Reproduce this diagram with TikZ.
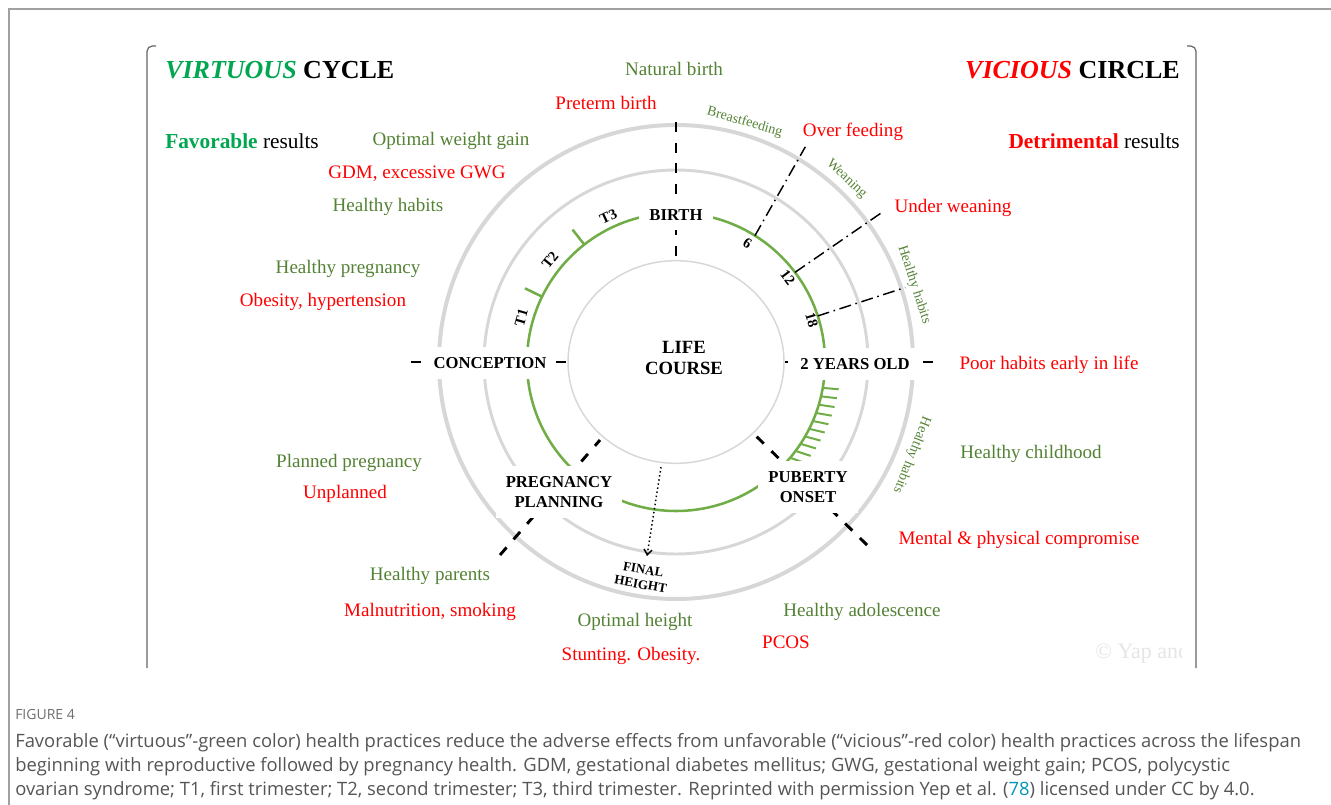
\documentclass[tikz,border=0pt]{standalone}
\usepackage{fontspec}
\setmainfont{Liberation Serif}
\newfontfamily\capfont{Open Sans}
\usetikzlibrary{calc,arrows.meta}
\definecolor{tgreen}{RGB}{84,130,53}
\definecolor{vgreen}{RGB}{0,166,80}
\definecolor{ringgrey}{RGB}{215,215,215}
\definecolor{ringgreen}{RGB}{112,173,71}
\definecolor{tred}{RGB}{255,0,0}
\definecolor{capgrey}{RGB}{85,85,85}
\definecolor{figgrey}{RGB}{110,110,110}
\definecolor{linkteal}{RGB}{0,150,180}
\definecolor{framegrey}{RGB}{100,100,100}
\definecolor{outergrey}{RGB}{160,160,160}
\begin{document}
\begin{tikzpicture}[x=0.75pt,y=0.75pt,
 gtxt/.style={text=tgreen,font=\fontsize{14.3}{17}\selectfont,inner sep=0pt,text height=9.5pt,text depth=0pt},
 rtxt/.style={text=tred,font=\fontsize{14.3}{17}\selectfont,inner sep=0pt,text height=9.5pt,text depth=0pt},
 stage/.style={fill=white,font=\bfseries\fontsize{12.5}{15}\selectfont,align=center,inner xsep=7.5pt,inner ysep=7.5pt},
 spoke/.style={draw=black,line width=2.2pt,dash pattern=on 7.5pt off 8pt},
 month/.style={draw=black,line width=1.1pt,dash pattern=on 9pt off 3.5pt on 1.2pt off 3.5pt},
 ring/.style={draw=ringgrey},
 gring/.style={draw=ringgreen,line width=1.9pt},
 numlab/.style={font=\bfseries\fontsize{11}{13}\selectfont,inner sep=0pt},
 ringlab/.style={text=tgreen,font=\fontsize{10.5}{12}\selectfont,inner sep=0pt,anchor=base},
 title/.style={font=\bfseries\fontsize{19.5}{24}\selectfont,inner sep=0pt,text height=13pt,text depth=0pt},
 result/.style={font=\fontsize{16}{19}\selectfont,inner sep=0pt,text height=10.6pt,text depth=0pt},
 capline/.style={anchor=west,inner sep=0pt,text=capgrey,font=\capfont\fontsize{13.8}{16}\selectfont,text height=9.8pt,text depth=0pt},
]
\useasboundingbox (0,0) rectangle (1331,-805);
% frames
\draw[outergrey,line width=1.1pt] (9,-805) -- (9,-9) -- (1331,-9);
\draw[framegrey,line width=0.9pt,rounded corners=4pt] (156,-46) -- (147,-46) -- (147,-668);
\draw[framegrey,line width=0.9pt,rounded corners=4pt] (1187,-46) -- (1196,-46) -- (1196,-668);

\coordinate (c) at (676,-362);
% rings
\draw[ring,line width=3pt] (c) circle[radius=177.75pt];
\draw[ring,line width=2.2pt] (c) circle[radius=144pt];
\draw[draw=ringgrey,line width=1.1pt] (c) ellipse[x radius=81pt,y radius=76pt];
\draw[gring] (c) circle[radius=111.75pt];
% trimester ticks
\draw[gring] ($(c)+(154:149)$) -- ($(c)+(154:168)$);
\draw[gring] ($(c)+(128:149)$) -- ($(c)+(128:168)$);
% hatch ticks
\foreach \i in {0,...,9}{
  \pgfmathsetmacro\ang{-10-3.33*\i}
  \draw[gring,line width=1.5pt] ($(c)+(\ang:149)$) -- ++({\ang/2}:16);
}
% spoke coordinates
\coordinate (sb1) at (676,-122); \coordinate (sb2) at (676,-262);
\coordinate (sc1) at (411,-362); \coordinate (sc2) at (568,-362);
\coordinate (sy1) at (933,-362); \coordinate (sy2) at (785,-362);
\coordinate (sp1) at (500,-555); \coordinate (sp2) at (600,-440);
\coordinate (so1) at (867,-545); \coordinate (so2) at (755,-435);
\draw[spoke] (sb1) -- (sb2);
\draw[spoke] (sc1) -- (sc2);
\draw[spoke] (sy1) -- (sy2);
\draw[spoke] (sp1) -- (sp2);
\draw[spoke] (so1) -- (so2);
% month lines
\coordinate (m6a) at ($(c)+(58:149)$); \coordinate (m6b) at ($(c)+(59:251)$);
\coordinate (m12a) at ($(c)+(37:149)$); \coordinate (m12b) at ($(c)+(36:253)$);
\coordinate (m18a) at ($(c)+(18:149)$); \coordinate (m18b) at ($(c)+(18:241)$);
\draw[month] (m6a) -- (m6b);
\draw[month] (m12a) -- (m12b);
\draw[month] (m18a) -- (m18b);
% final height arrow
\coordinate (fhs) at (661,-467); \coordinate (fhe) at (647,-556);
\draw[dotted,line width=1.1pt,-{Straight Barb[length=4pt,width=6pt]}] (fhs) -- (fhe);

% stage labels
\node[stage] (birth) at (676,-215) {BIRTH};
\node[stage] (conc) at (490,-363) {CONCEPTION};
\node[stage] (two) at (855,-364) {2 YEARS OLD};
\node[stage] (preg) at (559,-492) {PREGNANCY\\PLANNING};
\node[stage] (pub) at (808,-487) {PUBERTY\\ONSET};
\node[font=\bfseries\fontsize{14}{15.75}\selectfont,align=center,inner sep=0pt] (life) at (684,-358) {LIFE\\COURSE};
\node[font=\bfseries\fontsize{9.8}{11.25}\selectfont,align=center,rotate=-10,inner sep=0pt] (fh) at (642,-577) {FINAL\\HEIGHT};

% small rotated labels
\node[numlab,rotate=74] (t1) at ($(c)+(164:161)$) {T1};
\node[numlab,rotate=51] (t2) at ($(c)+(141:162)$) {T2};
\node[numlab,rotate=25] (t3) at ($(c)+(115:160)$) {T3};
\node[numlab,rotate=-31] (n6) at ($(c)+(59:139)$) {6};
\node[numlab,rotate=-53] (n12) at ($(c)+(37:140)$) {12};
\node[numlab,rotate=-73] (n18) at ($(c)+(17:142)$) {18};

% ring labels (tangent to the outer ring)
\node[ringlab,rotate=-16] (bf) at ($(c)+(74:246)$) {Breastfeeding};
\node[ringlab,rotate=-43] (wn) at ($(c)+(47:247)$) {Weaning};
\node[ringlab,rotate=-72] (hh1) at ($(c)+(18:247)$) {Healthy habits};
\node[ringlab,rotate=-111.5] (hh2) at ($(c)+(-21.5:250)$) {Healthy habits};

% titles
\node[title,anchor=west] (vt) at (165,-70) {\textcolor{vgreen}{\itshape VIRTUOUS} CYCLE};
\node[title,anchor=east] (vc) at (1180,-70) {\textcolor{tred}{\itshape VICIOUS} CIRCLE};
\node[result,anchor=west] (fav) at (165,-141) {\textcolor{vgreen}{\bfseries Favorable} results};
\node[result,anchor=east] (det) at (1180,-141) {\textcolor{tred}{\bfseries Detrimental} results};

% outcome texts
\node[gtxt] (nb) at (674,-69) {Natural birth};
\node[rtxt] (pb) at (606,-103) {Preterm birth};
\node[gtxt] (owg) at (451,-139) {Optimal weight gain};
\node[rtxt] (of) at (853,-130) {Over feeding};
\node[rtxt] (gdm) at (417,-172) {GDM, excessive GWG};
\node[gtxt] (hh) at (388,-205) {Healthy habits};
\node[rtxt] (uw) at (953,-206) {Under weaning};
\node[gtxt] (hp) at (348,-267) {Healthy pregnancy};
\node[rtxt] (oh) at (323,-300) {Obesity, hypertension};
\node[rtxt] (ph) at (1049,-363) {Poor habits early in life};
\node[gtxt] (hc) at (1031,-452) {Healthy childhood};
\node[gtxt] (pp) at (349,-461) {Planned pregnancy};
\node[rtxt] (up) at (345,-492) {Unplanned};
\node[rtxt] (mp) at (1019,-538) {Mental \& physical compromise};
\node[gtxt] (hpa) at (430,-574) {Healthy parents};
\node[rtxt] (ms) at (430,-610) {Malnutrition, smoking};
\node[gtxt] (oht) at (635,-620) {Optimal height};
\node[rtxt] (so) at (631,-654) {Stunting. Obesity.};
\node[gtxt] (ha) at (862,-610) {Healthy adolescence};
\node[rtxt] (pcos) at (786,-642) {PCOS};

% watermark
\begin{scope}
\clip (1000,-630) rectangle (1181,-680);
\node[text=black!10,font=\fontsize{16.5}{19}\selectfont,anchor=west,inner sep=0pt] (wm) at (1095,-653) {© Yap and};
\end{scope}

% caption
\node[anchor=west,inner sep=0pt,text=figgrey,font=\capfont\fontsize{10.5}{12}\selectfont] (figno) at (15,-714) {FIGURE 4};
\node[capline] (cap1) at (15,-741) {Favorable (“virtuous”-green color) health practices reduce the adverse effects from unfavorable (“vicious”-red color) health practices across the lifespan};
\node[capline] (cap2) at (15,-765) {beginning with reproductive followed by pregnancy health. GDM, gestational diabetes mellitus; GWG, gestational weight gain; PCOS, polycystic};
\node[capline] (cap3) at (15,-789) {ovarian syndrome; T1, first trimester; T2, second trimester; T3, third trimester. Reprinted with permission Yep et al. (\textcolor{linkteal}{78}) licensed under CC by 4.0.};
\end{tikzpicture}
\end{document}
